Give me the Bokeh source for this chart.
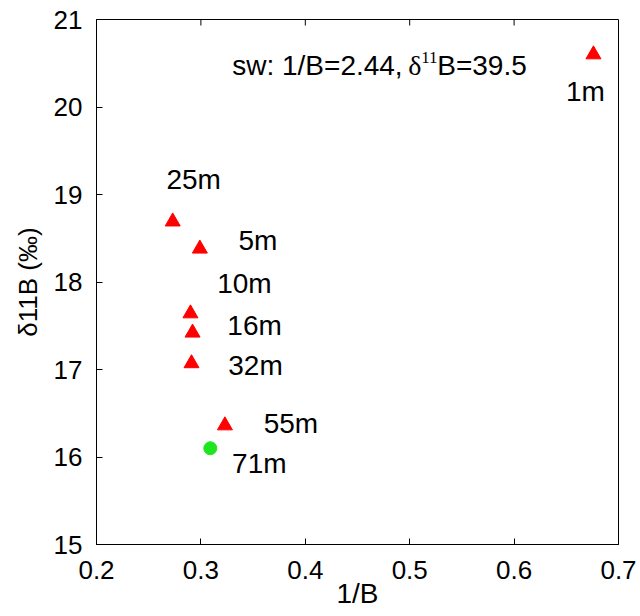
import math
from bokeh.plotting import figure
from bokeh.models import Range1d, FixedTicker, Label, ColumnDataSource
from bokeh.core.properties import value
from bokeh.embed import file_html
from bokeh.resources import INLINE

# ---- data ----
depth_labels = ["1m", "25m", "5m", "10m", "16m", "32m", "55m"]
inv_b = [0.676, 0.273, 0.299, 0.290, 0.292, 0.291, 0.323]
d11b = [20.60, 18.69, 18.38, 17.64, 17.42, 17.07, 16.36]

deep_label = ["71m"]
deep_inv_b = [0.309]
deep_d11b = [16.10]

x_ticks = [0.2, 0.3, 0.4, 0.5, 0.6, 0.7]
y_ticks = [15, 16, 17, 18, 19, 20, 21]
x_min, x_max = 0.2, 0.7
y_min, y_max = 15, 21

# label placement (screen pixel offsets from each point)
lab_dx = [-8, 21, 58, 54, 62, 64, 66]
lab_dy = [37, -42, -8, -30, -7, 2, -2]
deep_dx = [49]
deep_dy = [15]

FONT = "Liberation Sans"
FS = "26px"
FS_TXT = "28px"

p = figure(width=640, height=616, output_backend="svg", toolbar_location=None,
           x_range=Range1d(x_min, x_max), y_range=Range1d(y_min, y_max),
           min_border_left=96, min_border_right=22, min_border_top=19, min_border_bottom=72,
           background_fill_color="white", border_fill_color="white")
p.grid.visible = False
p.outline_line_color = "black"
p.outline_line_width = 1

for ax in (p.xaxis[0], p.yaxis[0]):
    ax.major_label_text_font = FONT
    ax.major_label_text_font_size = FS
    ax.major_label_text_color = "black"
    ax.axis_label_text_font = FONT
    ax.axis_label_text_font_size = FS
    ax.axis_label_text_font_style = "normal"
    ax.axis_label_text_color = "black"
    ax.major_tick_in = 6
    ax.major_tick_out = 0
    ax.minor_tick_in = 0
    ax.minor_tick_out = 0
    ax.axis_line_color = "black"
    ax.major_tick_line_color = "black"
    ax.major_label_standoff = 14

p.xaxis[0].ticker = FixedTicker(ticks=x_ticks)
p.yaxis[0].ticker = FixedTicker(ticks=y_ticks)
p.xaxis[0].major_label_standoff = 16
p.xaxis[0].axis_label = "1/B"
p.xaxis[0].axis_label_text_font_size = FS_TXT
p.xaxis[0].axis_label_standoff = -4
p.yaxis[0].axis_label = "δ11B (‰)"
p.yaxis[0].axis_label_standoff = 8

# inward tick marks on the top border
p.ray(x=x_ticks, y=[y_max] * len(x_ticks), length=6, length_units="screen",
      angle=-math.pi / 2, line_color="black", line_width=1)

src = ColumnDataSource(dict(x=inv_b, y=d11b, t=depth_labels, dx=lab_dx, dy=lab_dy))
src2 = ColumnDataSource(dict(x=deep_inv_b, y=deep_d11b, t=deep_label, dx=deep_dx, dy=deep_dy))

p.scatter("x", "y", source=src, marker="triangle", size=15, fill_color="red", line_color="red")
p.scatter("x", "y", source=src2, marker="circle", size=13, fill_color="#1ee61e", line_color="#1ee61e")

for s in (src, src2):
    p.text("x", "y", text="t", source=s, x_offset="dx", y_offset="dy",
           text_font=value(FONT), text_font_size=FS_TXT, text_color="black",
           text_align="center", text_baseline="middle")

# annotation: sw: 1/B=2.44, δ11B=39.5
ax0, ay0 = 0.33, 20.48
p.add_layout(Label(x=ax0, y=ay0, text="sw: 1/B=2.44,", text_font=FONT, text_font_size=FS_TXT,
                   text_baseline="alphabetic", text_color="black"))
p.add_layout(Label(x=ax0, y=ay0, x_offset=176, text="δ", text_font="Liberation Serif",
                   text_font_size=FS_TXT, text_baseline="alphabetic", text_color="black"))
p.add_layout(Label(x=ax0, y=ay0, x_offset=189, y_offset=8, text="11", text_font="Liberation Serif",
                   text_font_size="17px", text_baseline="alphabetic", text_color="black"))
p.add_layout(Label(x=ax0, y=ay0, x_offset=205, text="B=39.5", text_font=FONT, text_font_size=FS_TXT,
                   text_baseline="alphabetic", text_color="black"))

open("out.html", "w").write(file_html(p, INLINE))
